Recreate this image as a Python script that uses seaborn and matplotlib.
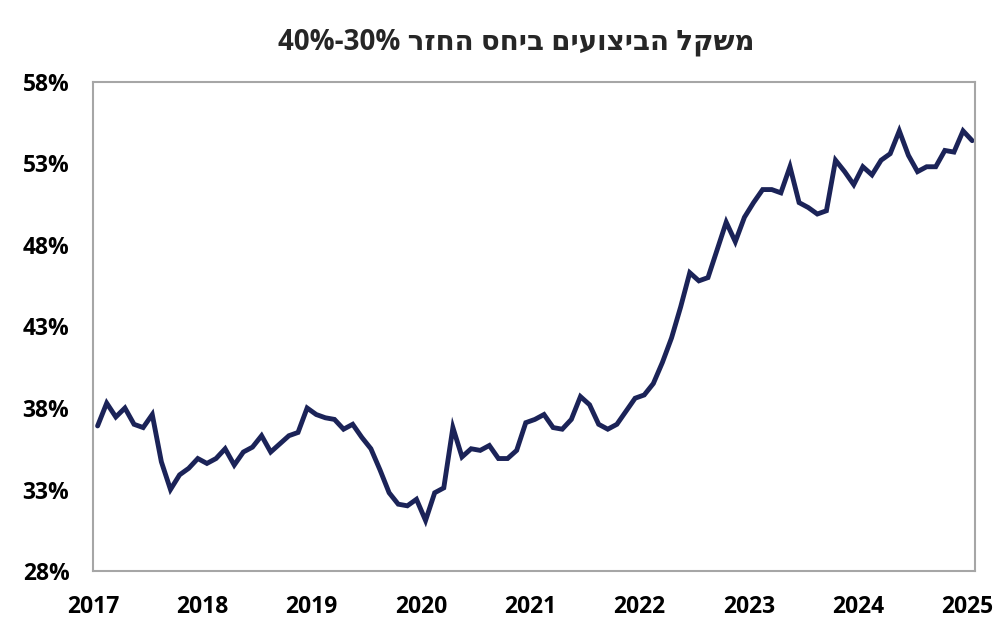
import numpy as np
import pandas as pd
import seaborn as sns
import matplotlib.pyplot as plt
from matplotlib.ticker import FuncFormatter

# monthly share (%) Jan 2017 - Jan 2025
share_2017 = [36.9, 38.3, 37.45, 38.0, 37.0, 36.8, 37.6, 34.7, 33.0, 33.9, 34.3, 34.9]
share_2018 = [34.6, 34.9, 35.5, 34.5, 35.3, 35.6, 36.3, 35.3, 35.8, 36.3, 36.5, 38.0]
share_2019 = [37.6, 37.4, 37.3, 36.7, 37.0, 36.2, 35.5, 34.2, 32.8, 32.1, 32.0, 32.4]
share_2020 = [31.1, 32.8, 33.1, 36.8, 35.0, 35.5, 35.4, 35.7, 34.9, 34.9, 35.4, 37.1]
share_2021 = [37.3, 37.6, 36.8, 36.7, 37.3, 38.7, 38.2, 37.0, 36.7, 37.0, 37.8, 38.6]
share_2022 = [38.8, 39.5, 40.8, 42.3, 44.2, 46.3, 45.8, 46.0, 47.7, 49.4, 48.2, 49.7]
share_2023 = [50.6, 51.4, 51.4, 51.2, 52.8, 50.6, 50.3, 49.9, 50.1, 53.2, 52.5, 51.7]
share_2024 = [52.8, 52.3, 53.2, 53.6, 55.0, 53.5, 52.5, 52.8, 52.8, 53.8, 53.7, 55.0]
share_2025 = [54.4]

years = [2017, 2018, 2019, 2020, 2021, 2022, 2023, 2024, 2025]
y_ticks = [28, 33, 38, 43, 48, 53, 58]

title_he = "משקל הביצועים ביחס החזר"
# matplotlib has no bidi support, so give the text in visual order
title = "40%-30% " + title_he[::-1]

values = (share_2017 + share_2018 + share_2019 + share_2020 + share_2021
          + share_2022 + share_2023 + share_2024 + share_2025)
df = pd.DataFrame({
    "t": 2017 + (np.arange(len(values)) + 0.5) / 12,
    "share": values,
})

sns.set_style("white")
plt.rcParams["font.family"] = ["Open Sans", "DejaVu Sans"]

fig = plt.figure(figsize=(10.08, 6.38), dpi=100)
ax = fig.add_axes([0.0923, 0.105, 0.8747, 0.7665])

sns.lineplot(data=df, x="t", y="share", ax=ax, color="#1b2358",
             linewidth=3.5, solid_joinstyle="miter")

ax.set_xlim(2017, 2025.065)
ax.set_ylim(28, 58)
ax.set_xticks(years)
ax.set_yticks(y_ticks)
ax.yaxis.set_major_formatter(FuncFormatter(lambda v, p: f"{v:.0f}%"))
ax.set_xlabel("")
ax.set_ylabel("")

for side in ["left", "right", "top", "bottom"]:
    ax.spines[side].set_color("#a6a6a6")
    ax.spines[side].set_linewidth(1.5)

ax.tick_params(axis="both", direction="out", length=6, width=1.5,
               color="#a6a6a6", labelsize=16.5, labelcolor="black")
ax.tick_params(axis="x", pad=11)
ax.tick_params(axis="y", pad=11)
for lab in ax.get_xticklabels() + ax.get_yticklabels():
    lab.set_fontweight("bold")

fig.text(0.512, 0.934, title, ha="center", va="center",
         fontsize=20, fontweight="bold")

fig.savefig("out.png", dpi=100)
